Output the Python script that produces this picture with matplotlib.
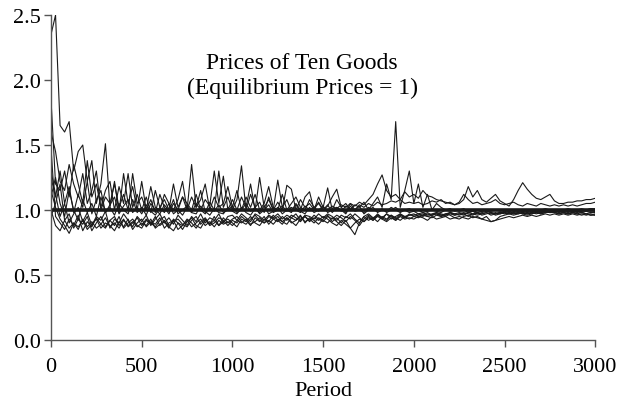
import numpy as np
import matplotlib
matplotlib.use("Agg")
import matplotlib.pyplot as plt

plt.rcParams['font.family'] = ['Liberation Serif', 'DejaVu Serif']

# period grid shared by all ten goods (every 25 periods)
period = np.arange(0, 3001, 25)

# prices, one list per good
good1 = [2.35, 2.50, 1.65, 1.60, 1.68, 1.30, 1.45, 1.50, 1.22, 1.38, 1.05, 1.20, 1.51, 1.02, 1.22, 0.98, 1.28, 1.05, 1.18, 1.00,
         1.22, 1.00, 1.08, 0.98, 1.12, 1.02, 0.97, 1.05, 1.00, 1.10, 1.00, 1.35, 1.02, 1.15, 0.98, 1.06, 1.00, 1.30, 1.02, 1.10,
         1.00, 1.08, 1.34, 1.00, 1.12, 1.02, 1.06, 0.98, 1.10, 1.00, 1.23, 1.02, 1.08, 0.99, 1.05, 1.00, 1.10, 1.14, 1.00, 1.06,
         1.00, 1.04, 0.98, 1.02, 1.00, 0.97, 1.03, 0.99, 1.00, 0.98, 1.02, 1.00, 0.99, 1.01, 0.98, 1.00, 1.02, 0.99, 1.00, 0.98,
         0.99, 1.00, 0.98, 0.99, 1.00, 0.99, 0.98, 1.00, 0.99, 1.00, 0.99, 1.00, 0.98, 0.99, 1.00, 0.99, 1.00, 0.99, 1.00, 0.99,
         1.00, 0.99, 1.00, 1.00, 0.99, 1.00, 1.00, 0.99, 1.00, 1.01, 1.00, 1.00, 0.99, 1.00, 1.01, 1.00, 1.00, 1.01, 1.00, 1.01, 1.01]
good2 = [1.85, 1.20, 1.15, 1.30, 1.10, 1.35, 1.20, 1.05, 1.38, 1.10, 1.20, 1.02, 1.15, 1.22, 1.00, 1.18, 1.05, 1.28, 1.02, 1.12,
         1.00, 1.10, 0.98, 1.15, 1.02, 1.08, 1.00, 1.20, 1.02, 1.10, 1.05, 1.00, 1.12, 1.00, 1.08, 1.03, 1.30, 1.05, 1.26, 1.00,
         1.08, 1.00, 1.10, 1.02, 1.20, 1.00, 1.25, 1.02, 1.08, 1.00, 1.06, 1.00, 1.19, 1.16, 1.00, 1.08, 1.02, 1.05, 1.00, 1.10,
         1.02, 1.17, 1.00, 1.08, 1.02, 0.98, 1.05, 1.00, 1.03, 0.97, 1.00, 1.02, 0.98, 1.00, 0.99, 1.02, 1.00, 0.98, 1.00, 1.01,
         0.99, 0.97, 0.98, 0.96, 0.97, 0.98, 0.97, 0.96, 0.98, 0.97, 0.98, 0.97, 0.98, 0.99, 0.97, 0.98, 0.99, 0.98, 0.97, 0.98,
         0.98, 0.99, 0.98, 0.97, 0.98, 0.99, 0.98, 0.99, 0.98, 0.99, 0.98, 0.98, 0.99, 0.98, 0.99, 0.98, 0.99, 0.98, 0.99, 0.98, 0.99]
good3 = [1.60, 1.45, 1.22, 1.15, 1.35, 1.20, 1.10, 1.28, 1.05, 1.15, 1.30, 1.00, 1.10, 1.05, 1.20, 1.02, 1.12, 1.00, 1.28, 1.05,
         1.10, 1.00, 1.18, 1.02, 1.00, 1.12, 1.05, 1.00, 1.08, 1.22, 1.00, 1.10, 1.02, 1.08, 1.20, 1.00, 1.10, 1.02, 1.05, 1.18,
         1.02, 1.15, 1.00, 1.10, 1.02, 1.12, 1.00, 1.05, 1.18, 1.02, 1.00, 1.12, 1.00, 1.05, 1.10, 1.02, 1.00, 1.08, 1.02, 1.05,
         1.00, 1.03, 1.10, 1.16, 1.02, 1.05, 1.00, 1.04, 1.02, 1.06, 1.00, 1.05, 1.10, 1.02, 1.20, 1.08, 1.68, 1.02, 1.15, 1.30,
         1.05, 1.20, 1.02, 1.12, 1.00, 1.05, 1.02, 1.00, 1.01, 0.99, 1.00, 1.01, 0.99, 1.00, 0.98, 0.99, 1.00, 0.98, 0.97, 0.98,
         0.99, 0.98, 0.97, 0.98, 0.99, 0.98, 0.97, 0.98, 0.99, 0.98, 0.99, 0.98, 0.97, 0.98, 0.97, 0.98, 0.97, 0.98, 0.97, 0.96, 0.97]
good4 = [1.10, 1.25, 1.05, 0.95, 1.15, 1.00, 0.92, 1.08, 0.98, 1.05, 0.95, 1.10, 0.98, 1.02, 0.96, 1.05, 1.00, 0.97, 1.08, 0.98,
         1.02, 0.96, 1.05, 1.00, 0.97, 1.04, 0.99, 1.08, 0.97, 1.00, 1.03, 0.98, 1.05, 1.00, 0.97, 1.02, 0.99, 1.04, 0.98, 1.00,
         1.03, 0.98, 1.00, 1.05, 0.99, 1.02, 0.97, 1.00, 1.04, 0.98, 1.00, 1.03, 0.99, 1.02, 1.00, 0.98, 1.03, 1.00, 1.02, 0.99,
         1.02, 1.00, 1.03, 1.01, 1.04, 1.02, 1.05, 1.03, 1.06, 1.04, 1.08, 1.12, 1.20, 1.27, 1.15, 1.10, 1.12, 1.08, 1.14, 1.10,
         1.12, 1.09, 1.15, 1.11, 1.10, 1.08, 1.07, 1.06, 1.05, 1.04, 1.05, 1.08, 1.18, 1.10, 1.15, 1.08, 1.06, 1.09, 1.12, 1.07,
         1.05, 1.03, 1.08, 1.15, 1.21, 1.16, 1.12, 1.09, 1.08, 1.10, 1.12, 1.07, 1.05, 1.05, 1.06, 1.06, 1.07, 1.07, 1.08, 1.08, 1.09]
good5 = [1.25, 1.10, 1.30, 1.05, 1.18, 0.98, 1.12, 1.02, 1.22, 0.97, 1.08, 1.15, 0.98, 1.04, 1.10, 0.97, 1.03, 1.08, 0.98, 1.02,
         0.97, 1.04, 0.99, 0.96, 1.02, 0.98, 1.05, 0.97, 1.00, 0.96, 1.02, 0.98, 0.97, 1.03, 0.99, 0.96, 1.01, 0.98, 0.97, 1.02,
         0.99, 0.97, 1.02, 0.98, 0.96, 1.01, 0.98, 1.03, 0.97, 0.99, 1.02, 0.97, 1.00, 0.98, 1.04, 0.99, 0.97, 1.02, 0.98, 1.00,
         1.03, 0.98, 1.00, 1.02, 0.99, 1.03, 1.01, 1.00, 1.04, 1.02, 1.05, 1.03, 1.06, 1.04, 1.05, 1.07, 1.06, 1.08, 1.05, 1.06,
         1.05, 1.06, 1.04, 1.05, 1.07, 1.06, 1.08, 1.05, 1.06, 1.04, 1.06, 1.12, 1.08, 1.05, 1.06, 1.04, 1.05, 1.06, 1.08, 1.05,
         1.04, 1.05, 1.06, 1.04, 1.03, 1.05, 1.04, 1.03, 1.05, 1.04, 1.03, 1.04, 1.03, 1.04, 1.03, 1.04, 1.03, 1.04, 1.05, 1.05, 1.06]
good6 = [1.00, 0.88, 0.84, 0.92, 0.86, 0.90, 0.85, 0.93, 0.87, 0.91, 0.86, 0.89, 0.94, 0.87, 0.90, 0.86, 0.92, 0.88, 0.91, 0.87,
         0.90, 0.88, 0.93, 0.86, 0.89, 0.92, 0.87, 0.84, 0.90, 0.88, 0.92, 0.87, 0.90, 0.93, 0.88, 0.91, 0.87, 0.92, 0.89, 0.91,
         0.88, 0.92, 0.90, 0.93, 0.89, 0.91, 0.94, 0.90, 0.92, 0.89, 0.93, 0.91, 0.94, 0.90, 0.92, 0.95, 0.91, 0.93, 0.90, 0.94,
         0.92, 0.90, 0.94, 0.91, 0.88, 0.92, 0.86, 0.90, 0.93, 0.91, 0.94, 0.92, 0.95, 0.93, 0.91, 0.94, 0.92, 0.95, 0.93, 0.94,
         0.93, 0.95, 0.94, 0.92, 0.95, 0.93, 0.94, 0.95, 0.93, 0.94, 0.95, 0.94, 0.93, 0.95, 0.94, 0.93, 0.92, 0.91, 0.92, 0.93,
         0.94, 0.95, 0.94, 0.95, 0.96, 0.95, 0.96, 0.95, 0.96, 0.97, 0.96, 0.97, 0.96, 0.97, 0.96, 0.97, 0.96, 0.97, 0.96, 0.97, 0.96]
good7 = [1.48, 0.95, 0.90, 0.85, 0.93, 0.88, 0.96, 0.84, 0.91, 0.87, 0.94, 0.89, 0.86, 0.92, 0.88, 0.95, 0.86, 0.90, 0.93, 0.88,
         0.86, 0.92, 0.89, 0.95, 0.88, 0.91, 0.86, 0.93, 0.90, 0.85, 0.91, 0.94, 0.88, 0.86, 0.92, 0.89, 0.95, 0.88, 0.91, 0.93,
         0.90, 0.87, 0.93, 0.91, 0.95, 0.90, 0.88, 0.93, 0.91, 0.96, 0.92, 0.89, 0.94, 0.91, 0.88, 0.93, 0.95, 0.91, 0.94, 0.92,
         0.95, 0.93, 0.90, 0.88, 0.92, 0.89, 0.86, 0.81, 0.90, 0.95, 0.92, 0.94, 0.91, 0.95, 0.93, 0.96, 0.94, 0.92, 0.95, 0.93,
         0.95, 0.94, 0.96, 0.95, 0.94, 0.96, 0.95, 0.97, 0.96, 0.94, 0.93, 0.95, 0.96, 0.94, 0.95, 0.93, 0.95, 0.91, 0.92, 0.95,
         0.96, 0.97, 0.96, 0.97, 0.98, 0.97, 0.98, 0.97, 0.98, 0.99, 0.98, 0.99, 0.98, 0.99, 0.98, 0.99, 0.98, 0.99, 1.00, 0.99, 1.00]
good8 = [1.15, 1.02, 0.93, 0.88, 0.82, 0.90, 0.87, 0.92, 0.85, 0.89, 0.93, 0.86, 0.90, 0.88, 0.84, 0.91, 0.87, 0.93, 0.85, 0.90,
         0.93, 0.87, 0.91, 0.89, 0.94, 0.86, 0.90, 0.92, 0.85, 0.88, 0.93, 0.90, 0.86, 0.91, 0.94, 0.89, 0.92, 0.88, 0.94, 0.90,
         0.93, 0.95, 0.91, 0.89, 0.93, 0.96, 0.92, 0.90, 0.95, 0.93, 0.91, 0.95, 0.92, 0.96, 0.94, 0.91, 0.95, 0.92, 0.96, 0.93,
         0.91, 0.95, 0.93, 0.96, 0.94, 0.91, 0.95, 0.92, 0.88, 0.93, 0.96, 0.93, 0.97, 0.94, 0.92, 0.96, 0.93, 0.97, 0.95, 0.96,
         0.96, 0.97, 0.95, 0.97, 0.96, 0.98, 0.96, 0.97, 0.98, 0.96, 0.97, 0.98, 0.97, 0.96, 0.98, 0.97, 0.98, 0.97, 0.98, 0.97,
         0.98, 0.97, 0.98, 0.99, 0.98, 0.97, 0.98, 0.99, 0.98, 0.99, 0.98, 0.99, 1.00, 0.99, 1.00, 0.99, 1.00, 0.99, 1.00, 1.01, 1.00]
good9 = [1.30, 1.12, 0.95, 1.05, 0.90, 0.97, 1.02, 0.91, 0.98, 0.88, 0.95, 0.92, 0.99, 0.86, 0.93, 0.90, 0.97, 0.92, 0.87, 0.95,
         0.91, 0.96, 0.88, 0.93, 0.97, 0.90, 0.94, 0.89, 0.96, 0.92, 0.88, 0.95, 0.91, 0.97, 0.90, 0.94, 0.92, 0.97, 0.90, 0.95,
         0.96, 0.92, 0.97, 0.94, 0.91, 0.97, 0.95, 0.92, 0.96, 0.94, 0.97, 0.93, 0.96, 0.94, 0.97, 0.92, 0.96, 0.95, 0.93, 0.97,
         0.94, 0.97, 0.95, 0.92, 0.96, 0.94, 0.97, 0.93, 0.90, 0.95, 0.97, 0.94, 0.96, 0.93, 0.97, 0.95, 0.92, 0.96, 0.94, 0.97,
         0.95, 0.96, 0.97, 0.95, 0.96, 0.97, 0.96, 0.95, 0.97, 0.96, 0.97, 0.96, 0.98, 0.97, 0.96, 0.97, 0.98, 0.96, 0.97, 0.98,
         0.97, 0.98, 0.97, 0.98, 0.97, 0.96, 0.97, 0.98, 0.97, 0.98, 0.99, 0.98, 0.97, 0.98, 0.97, 0.98, 0.97, 0.96, 0.97, 0.96, 0.96]
good10 = [0.95, 1.05, 1.20, 0.92, 0.97, 0.86, 0.93, 0.89, 0.95, 0.84, 0.90, 0.95, 0.87, 0.92, 0.95, 0.88, 0.93, 0.87, 0.90, 0.94,
          0.88, 0.93, 0.90, 0.87, 0.92, 0.95, 0.88, 0.91, 0.93, 0.89, 0.87, 0.92, 0.95, 0.89, 0.93, 0.88, 0.90, 0.94, 0.92, 0.88,
          0.92, 0.90, 0.95, 0.92, 0.88, 0.94, 0.91, 0.95, 0.89, 0.93, 0.95, 0.91, 0.89, 0.94, 0.92, 0.96, 0.90, 0.94, 0.92, 0.89,
          0.93, 0.96, 0.91, 0.94, 0.90, 0.95, 0.93, 0.97, 0.94, 0.91, 0.95, 0.92, 0.96, 0.94, 0.97, 0.93, 0.95, 0.97, 0.94, 0.96,
          0.97, 0.95, 0.96, 0.98, 0.96, 0.97, 0.95, 0.96, 0.98, 0.97, 0.96, 0.97, 0.95, 0.97, 0.98, 0.96, 0.97, 0.98, 0.96, 0.97,
          0.98, 0.97, 0.99, 0.98, 0.97, 0.98, 0.99, 0.98, 0.97, 0.98, 0.99, 0.98, 0.99, 0.98, 0.97, 0.98, 0.99, 0.98, 0.97, 0.98, 0.98]

goods = [good1, good2, good3, good4, good5, good6, good7, good8, good9, good10]
equilibrium = 1.0

fig = plt.figure(figsize=(6.22, 4.02), dpi=100)
ax = fig.add_axes([0.082, 0.152, 0.875, 0.808])

for g in goods:
    ax.plot(period, g, color='#1a1a1a', lw=0.8)
ax.axhline(equilibrium, color='#1a1a1a', lw=2.6)

ax.set_xlim(0, 3000)
ax.set_ylim(0, 2.5)
ax.set_xticks(np.arange(0, 3001, 500))
ax.set_yticks(np.arange(0, 2.51, 0.5))
ax.set_yticklabels(['%.1f' % v for v in np.arange(0, 2.51, 0.5)])
ax.spines['top'].set_visible(False)
ax.spines['right'].set_visible(False)
for s in ['left', 'bottom']:
    ax.spines[s].set_color('#555555')
    ax.spines[s].set_linewidth(1.0)
ax.tick_params(direction='out', length=5, width=1, color='#555555', labelsize=16, pad=2)
ax.tick_params(axis='x', pad=7)
ax.set_xlabel('Period', fontsize=16, labelpad=4)

ax.text(1385, 2.04, 'Prices of Ten Goods\n(Equilibrium Prices = 1)', ha='center', va='center',
        fontsize=17, linespacing=1.25)

fig.savefig('out.png', dpi=100)
